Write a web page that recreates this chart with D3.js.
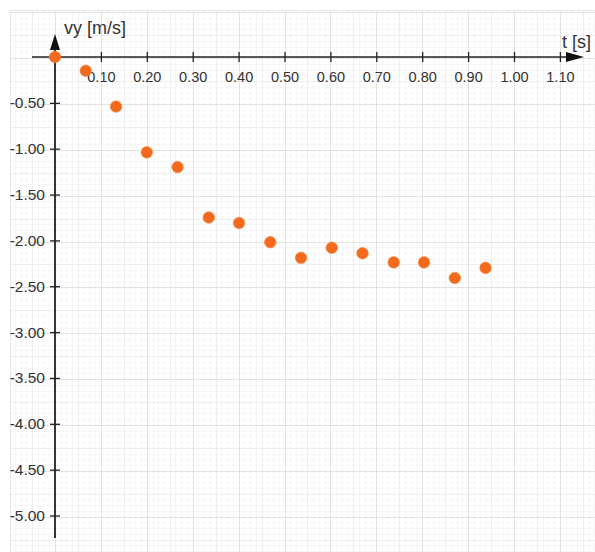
<!DOCTYPE html>
<html><head><meta charset="utf-8">
<script src="https://cdn.jsdelivr.net/npm/d3@7/dist/d3.min.js"></script>
<style>
html,body{margin:0;padding:0;background:#fff;}
svg{display:block;font-family:"Liberation Sans",Arial,Helvetica,sans-serif;}
</style></head>
<body>
<svg id="c" width="595" height="552"></svg>
<script>
// data
const times = [0, 0.067, 0.133, 0.200, 0.267, 0.335, 0.401, 0.469, 0.536, 0.603, 0.670, 0.738, 0.804, 0.871, 0.938];
const vy    = [0, -0.15, -0.54, -1.04, -1.20, -1.75, -1.81, -2.02, -2.19, -2.08, -2.14, -2.24, -2.24, -2.41, -2.30];
const xTickValues = [0.1, 0.2, 0.3, 0.4, 0.5, 0.6, 0.7, 0.8, 0.9, 1.0, 1.1];
const yTickValues = [-0.5, -1.0, -1.5, -2.0, -2.5, -3.0, -3.5, -4.0, -4.5, -5.0];
const xLabel = "t [s]";
const yLabel = "vy [m/s]";

const svg = d3.select("#c");
const W = 595, H = 552;
const x = d3.scaleLinear().domain([0, 1]).range([55, 514]);
const y = d3.scaleLinear().domain([0, -5]).range([57, 515.5]);
const fmt = d => d.toFixed(2);

// grid
const gx0 = 10, gy0 = 10;
svg.append("defs").append("clipPath").attr("id","gclip")
  .append("rect").attr("x",gx0).attr("y",gy0).attr("width",W-gx0).attr("height",H-gy0);
const grid = svg.append("g").attr("clip-path","url(#gclip)");
const fineX = d3.range(-0.1, 1.3, 0.0125), fineY = d3.range(0.55, -5.6, -0.0625);
function lvl(v, step){
  const r = Math.round(v/step);
  if (r % 8 === 0) return 0;
  if (r % 4 === 0) return 1;
  return 2;
}
const cols = ["#e2e2e2","#ededed","#f7f7f7"];
[2,1,0].forEach(L=>{
  fineX.filter(v=>lvl(v,0.0125)===L).forEach(v=>{
    const px = Math.round(x(v))+0.5;
    grid.append("line").attr("x1",px).attr("x2",px).attr("y1",gy0).attr("y2",H)
      .attr("stroke",cols[L]).attr("stroke-width",1);
  });
  fineY.filter(v=>lvl(v,0.0625)===L).forEach(v=>{
    const py = Math.round(y(v))+0.5;
    grid.append("line").attr("x1",gx0).attr("x2",W).attr("y1",py).attr("y2",py)
      .attr("stroke",cols[L]).attr("stroke-width",1);
  });
});
svg.append("line").attr("x1",gx0).attr("x2",W).attr("y1",gy0+0.5).attr("y2",gy0+0.5).attr("stroke","#e6e6e6");
svg.append("line").attr("x1",gx0+0.5).attr("x2",gx0+0.5).attr("y1",gy0).attr("y2",H).attr("stroke","#e6e6e6");

const axisCol = "#222", txtCol = "#333";

// x axis
const gxA = svg.append("g").attr("transform",`translate(0,${y(0)})`)
  .call(d3.axisBottom(x).tickValues(xTickValues).tickFormat(fmt).tickSize(0).tickPadding(15));
gxA.select(".domain").remove();
gxA.attr("font-size",null).attr("font-family",null);
gxA.selectAll(".tick line").attr("y1",-5).attr("y2",5).attr("stroke",axisCol).attr("stroke-width",1.3);
gxA.selectAll(".tick text").attr("fill",txtCol).style("font-size","14.5px");
svg.append("line").attr("x1",32).attr("x2",570).attr("y1",y(0)).attr("y2",y(0)).attr("stroke",axisCol).attr("stroke-width",1.6);
svg.append("path").attr("d",`M584,${y(0)} L566,${y(0)-5} L566,${y(0)+5} Z`).attr("fill","#111");
svg.append("text").attr("x",562).attr("y",48).attr("fill",txtCol).style("font-size","18px").text(xLabel);

// y axis
const gyA = svg.append("g").attr("transform",`translate(${x(0)},0)`)
  .call(d3.axisLeft(y).tickValues(yTickValues).tickFormat(fmt).tickSize(0).tickPadding(10));
gyA.select(".domain").remove();
gyA.attr("font-size",null).attr("font-family",null);
gyA.selectAll(".tick line").attr("x1",-5).attr("x2",5).attr("stroke",axisCol).attr("stroke-width",1.3);
gyA.selectAll(".tick text").attr("fill",txtCol).style("font-size","15.5px");
svg.append("line").attr("x1",x(0)).attr("x2",x(0)).attr("y1",48).attr("y2",538).attr("stroke",axisCol).attr("stroke-width",1.8);
svg.append("path").attr("d",`M${x(0)},34 L${x(0)-5},50 L${x(0)+5},50 Z`).attr("fill","#111");
svg.append("text").attr("x",64).attr("y",34).attr("fill",txtCol).style("font-size","18px").text(yLabel);

// points
svg.append("g").selectAll("circle").data(times.map((t,i)=>({t,v:vy[i]}))).join("circle")
  .attr("cx",d=>x(d.t)).attr("cy",d=>y(d.v)).attr("r",5.8)
  .attr("fill","#f36a1d").attr("stroke","#f5894a").attr("stroke-width",0.6);
</script>
</body></html>
